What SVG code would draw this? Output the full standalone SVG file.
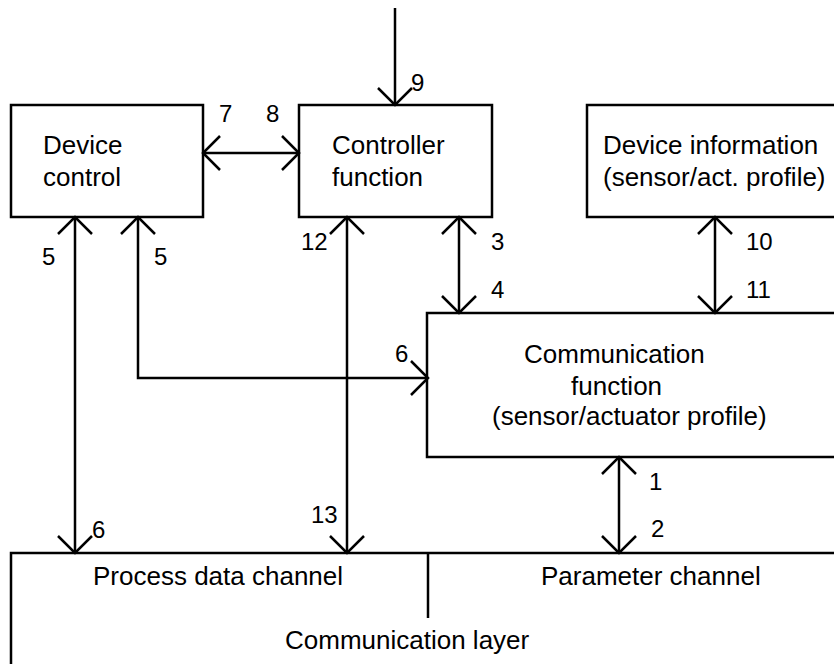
<svg xmlns="http://www.w3.org/2000/svg" width="834" height="664" viewBox="0 0 834 664">
  <style>
    .box { fill: #ffffff; stroke: #000000; stroke-width: 2.5; }
    .ln { fill: none; stroke: #000000; stroke-width: 2.5; }
    .t { font-family: "Liberation Sans", Arial, sans-serif; font-size: 26px; fill: #000000; }
    .n { font-family: "Liberation Sans", Arial, sans-serif; font-size: 24px; fill: #000000; }
    .conn { fill: none; stroke: #000000; stroke-width: 2.5; marker-start: url(#ah); marker-end: url(#ah); }
    .conn1 { fill: none; stroke: #000000; stroke-width: 2.5; marker-end: url(#ah); }
  </style>
  <defs>
    <marker id="ah" viewBox="-20 -20 24 40" refX="0" refY="0" markerWidth="24" markerHeight="40" markerUnits="userSpaceOnUse" orient="auto-start-reverse" overflow="visible">
      <path d="M-17,-17 L0,0 L-17,17" fill="none" stroke="#000000" stroke-width="2.5"/>
    </marker>
  </defs>
  <rect width="834" height="664" fill="#ffffff"/>

  <g id="device-control">
    <rect class="box" x="11" y="105" width="192" height="112"/>
    <text class="t" x="43" y="154">Device</text>
    <text class="t" x="43" y="186">control</text>
  </g>

  <g id="controller-function">
    <rect class="box" x="299" y="105" width="193" height="112"/>
    <text class="t" x="332" y="154">Controller</text>
    <text class="t" x="332" y="186">function</text>
  </g>

  <g id="device-information">
    <rect class="box" x="587" y="105" width="260" height="112"/>
    <text class="t" x="603" y="154">Device information</text>
    <text class="t" x="603" y="186">(sensor/act. profile)</text>
  </g>

  <g id="communication-function">
    <rect class="box" x="427" y="313" width="420" height="144"/>
    <text class="t" x="524" y="363">Communication</text>
    <text class="t" x="571" y="395">function</text>
    <text class="t" x="492" y="425">(sensor/actuator profile)</text>
  </g>

  <g id="communication-layer">
    <rect class="box" x="11" y="553" width="840" height="130"/>
    <line class="ln" x1="428" y1="553" x2="428" y2="618"/>
    <text class="t" x="93" y="585">Process data channel</text>
    <text class="t" x="541" y="585">Parameter channel</text>
    <text class="t" x="285" y="649">Communication layer</text>
  </g>

  <g id="connectors">
    <line class="conn1" x1="395" y1="8" x2="395" y2="105"/>
    <line class="conn" x1="203" y1="153" x2="299" y2="153"/>
    <line class="conn" x1="75" y1="217" x2="75" y2="553"/>
    <path class="conn" d="M138,217 L138,378 L428,378"/>
    <line class="conn" x1="347" y1="217" x2="347" y2="553"/>
    <line class="conn" x1="459" y1="217" x2="459" y2="313"/>
    <line class="conn" x1="715" y1="217" x2="715" y2="313"/>
    <line class="conn" x1="619" y1="457" x2="619" y2="553"/>
  </g>

  <g id="labels">
    <text class="n" x="411" y="91">9</text>
    <text class="n" x="219" y="122">7</text>
    <text class="n" x="266" y="122">8</text>
    <text class="n" x="42" y="265">5</text>
    <text class="n" x="154" y="265">5</text>
    <text class="n" x="301" y="250">12</text>
    <text class="n" x="491" y="250">3</text>
    <text class="n" x="491" y="298">4</text>
    <text class="n" x="746" y="250">10</text>
    <text class="n" x="746" y="298">11</text>
    <text class="n" x="395" y="362">6</text>
    <text class="n" x="92" y="538">6</text>
    <text class="n" x="311" y="523">13</text>
    <text class="n" x="649" y="490">1</text>
    <text class="n" x="651" y="537">2</text>
  </g>
</svg>
